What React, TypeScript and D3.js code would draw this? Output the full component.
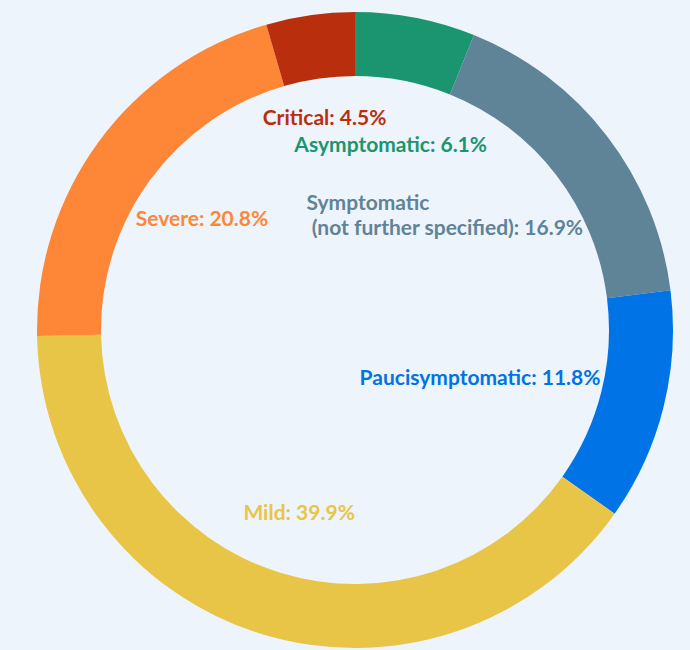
import React, { useEffect, useRef } from 'react';
import * as d3 from 'd3';

// share of cases by clinical severity (%), clockwise from 12 o'clock
const categories = [
  'Asymptomatic',
  'Symptomatic\n (not further specified)',
  'Paucisymptomatic',
  'Mild',
  'Severe',
  'Critical',
];
const values = [6.1, 16.9, 11.8, 39.9, 20.8, 4.5];
const colors = ['#1b9570', '#5f8397', '#0073e6', '#e8c547', '#fd8737', '#b92f0e'];

const App = () => {
  const svgRef = useRef<SVGSVGElement>(null);

  useEffect(() => {
    const width = 690;
    const height = 650;
    const cx = 355;
    const cy = 330;
    const rOut = 318;
    const rIn = 254;
    const labelR = 190;
    const fontSize = 21;
    const lineH = 25;
    const pad = 4;

    const svg = d3.select(svgRef.current);
    svg.selectAll('*').remove();
    svg.attr('width', width).attr('height', height);

    svg.append('rect').attr('width', width).attr('height', height).attr('fill', '#eef4fb');

    const g = svg.append('g').attr('transform', `translate(${cx},${cy})`);

    const pie = d3.pie<number>().sort(null).value((d) => d);
    const arc = d3.arc<d3.PieArcDatum<number>>().innerRadius(rIn).outerRadius(rOut);
    const arcs = pie(values);

    g.selectAll('path')
      .data(arcs)
      .join('path')
      .attr('d', arc)
      .attr('fill', (d, i) => colors[i]);

    // labels: centred on the slice's mid angle, kept inside the hole, nudged outward on collision
    const placed: { x0: number; x1: number; y0: number; y1: number }[] = [];
    const overlaps = (a, b) =>
      a.x0 < b.x1 + 2 && b.x0 < a.x1 + 2 && a.y0 < b.y1 + 2 && b.y0 < a.y1 + 2;

    arcs.forEach((a, i) => {
      const lines = categories[i].split('\n');
      lines[lines.length - 1] += `: ${values[i]}%`;

      const text = g
        .append('text')
        .attr('fill', colors[i])
        .style('font-family', 'Lato, "Open Sans", sans-serif')
        .style('font-size', `${fontSize}px`)
        .style('font-weight', 700)
        .style('white-space', 'pre');

      lines.forEach((l, j) => {
        text.append('tspan').attr('x', 0).attr('y', j * lineH).text(l);
      });

      const bb = (text.node() as SVGTextElement).getBBox();
      const widths = (text.selectAll('tspan').nodes() as SVGTSpanElement[]).map((n) =>
        n.getComputedTextLength()
      );
      const mid = (a.startAngle + a.endAngle) / 2;

      const place = (r: number) => {
        let x = Math.sin(mid) * r - bb.width / 2;
        const top = -Math.cos(mid) * r - bb.height / 2;
        const base = top - bb.y;
        lines.forEach((_, j) => {
          const ym = base + j * lineH - fontSize * 0.35;
          const half = Math.sqrt(Math.max(0, (rIn - pad) ** 2 - ym * ym));
          if (x + widths[j] > half) x = half - widths[j];
          if (x < -half) x = -half;
        });
        return { x, base, box: { x0: x, x1: x + bb.width, y0: top, y1: top + bb.height } };
      };

      let r = labelR;
      let p = place(r);
      while (placed.some((b) => overlaps(b, p.box)) && r < rIn) {
        r += 2;
        p = place(r);
      }
      placed.push(p.box);
      text.attr('transform', `translate(${p.x},${p.base})`);
    });
  }, []);

  return <svg ref={svgRef} style={{ position: 'absolute', left: 0, top: 0, display: 'block' }}></svg>;
};

export default App;
